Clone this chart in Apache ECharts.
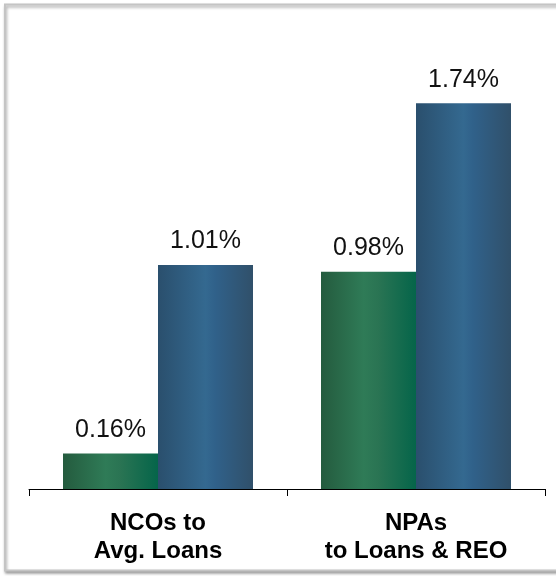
<!DOCTYPE html>
<html>
<head>
<meta charset="utf-8">
<script src="https://cdn.jsdelivr.net/npm/echarts@6/dist/echarts.min.js"></script>
<style>
html,body{margin:0;padding:0;background:#fff;}
#chart{width:556px;height:576px;}
</style>
</head>
<body>
<div id="chart"></div>
<script>
const categories = ['NCOs to\nAvg. Loans', 'NPAs\nto Loans & REO'];
const seriesA = [0.16, 0.98];
const seriesB = [1.01, 1.74];

const greenGrad = new echarts.graphic.LinearGradient(0, 0, 1, 0, [
  {offset: 0, color: '#245b3e'},
  {offset: 0.45, color: '#2f7b57'},
  {offset: 0.6, color: '#2a7453'},
  {offset: 1, color: '#05654a'}
]);
const blueGrad = new echarts.graphic.LinearGradient(0, 0, 1, 0, [
  {offset: 0, color: '#2a4f6d'},
  {offset: 0.5, color: '#346990'},
  {offset: 0.6, color: '#30618a'},
  {offset: 1, color: '#30506a'}
]);

const labelCfg = {
  show: true,
  position: 'top',
  distance: 11,
  fontFamily: 'Liberation Sans, Arial, sans-serif',
  fontSize: 25,
  color: '#111',
  formatter: p => p.value.toFixed(2) + '%'
};

const chart = echarts.init(document.getElementById('chart'), null, {renderer: 'canvas'});
chart.setOption({
  animation: false,
  backgroundColor: '#fff',
  graphic: [{
    type: 'rect',
    z: -10,
    shape: {x: 5, y: 4.5, width: 560, height: 566},
    style: {
      fill: '#fff',
      stroke: '#c4c4c4',
      lineWidth: 2,
      shadowBlur: 3,
      shadowOffsetX: 1,
      shadowOffsetY: 2,
      shadowColor: 'rgba(0,0,0,0.35)'
    }
  }],
  grid: {left: 29, right: 11, top: 45.6, bottom: 87, containLabel: false},
  xAxis: {
    type: 'category',
    data: categories,
    axisLine: {lineStyle: {color: '#000', width: 1}},
    axisTick: {show: true, length: 7, lineStyle: {color: '#000'}},
    axisLabel: {
      margin: 20,
      fontFamily: 'Liberation Sans, Arial, sans-serif',
      fontWeight: 'bold',
      fontSize: 24,
      lineHeight: 28,
      color: '#000'
    }
  },
  yAxis: {
    type: 'value',
    min: 0,
    max: 2,
    show: false,
    splitLine: {show: false}
  },
  series: [
    {type: 'bar', data: seriesA, barWidth: 95, barGap: '0%', itemStyle: {color: greenGrad}, label: labelCfg},
    {type: 'bar', data: seriesB, barWidth: 95, barGap: '0%', itemStyle: {color: blueGrad}, label: labelCfg}
  ]
});
</script>
</body>
</html>
